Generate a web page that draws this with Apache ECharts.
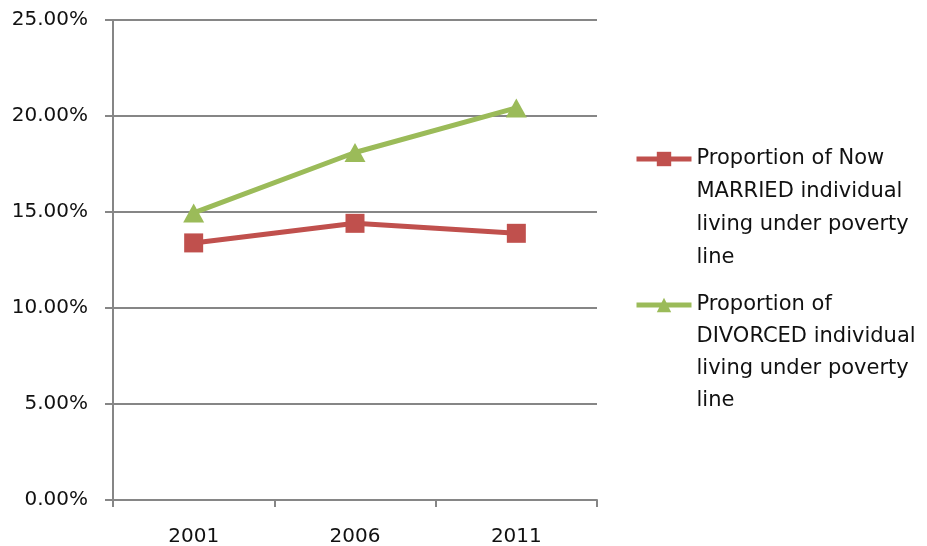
<!DOCTYPE html>
<html>
<head>
<meta charset="utf-8">
<script src="https://cdn.jsdelivr.net/npm/echarts@6/dist/echarts.min.js"></script>
<style>
html,body{margin:0;padding:0;background:#fff;}
#chart{width:927px;height:546px;}
</style>
</head>
<body>
<div id="chart"></div>
<script>
var categories = ['2001', '2006', '2011'];
var marriedValues = [13.39, 14.41, 13.89];
var divorcedValues = [14.95, 18.10, 20.42];
var marriedName = 'Proportion of Now\nMARRIED individual\nliving under poverty\nline';
var divorcedName = 'Proportion of\nDIVORCED individual\nliving under poverty\nline';
var yTicks = [0, 5, 10, 15, 20, 25];

var FONT = 'DejaVu Sans';
var chart = echarts.init(document.getElementById('chart'));
function legendFmt(name) { return '\n\n\n' + name; }
chart.setOption({
  backgroundColor: '#ffffff',
  animation: false,
  grid: {left: 113, right: 330, top: 20, bottom: 46, containLabel: false, outerBoundsMode: 'none'},
  xAxis: {
    type: 'category',
    data: categories,
    boundaryGap: true,
    axisLine: {lineStyle: {color: '#868686', width: 2}},
    axisTick: {show: true, length: 7, lineStyle: {color: '#868686', width: 2}},
    axisLabel: {color: '#111111', fontFamily: FONT, fontSize: 20, margin: 27}
  },
  yAxis: {
    type: 'value',
    min: yTicks[0],
    max: yTicks[yTicks.length - 1],
    interval: 5,
    axisLine: {show: true, lineStyle: {color: '#868686', width: 2}},
    axisTick: {show: true, length: 8, lineStyle: {color: '#868686', width: 2}},
    splitLine: {show: true, lineStyle: {color: '#868686', width: 2}},
    axisLabel: {
      color: '#111111', fontFamily: FONT, fontSize: 20, margin: 25,
      formatter: function (v) { return v.toFixed(2) + '%'; }
    }
  },
  legend: [
    {
      data: [marriedName],
      formatter: legendFmt,
      left: 634, top: 159 - 3.5 * 33, padding: 0, orient: 'vertical',
      itemWidth: 55, itemHeight: 18,
      lineStyle: {width: 5},
      textStyle: {color: '#111111', fontFamily: FONT, fontSize: 21, lineHeight: 33}
    },
    {
      data: [divorcedName],
      formatter: legendFmt,
      left: 634, top: 305 - 3.5 * 32, padding: 0, orient: 'vertical',
      itemWidth: 55, itemHeight: 18,
      lineStyle: {width: 5},
      textStyle: {color: '#111111', fontFamily: FONT, fontSize: 21, lineHeight: 32}
    }
  ],
  series: [
    {
      name: marriedName,
      type: 'line',
      data: marriedValues,
      symbol: 'rect',
      symbolSize: 19,
      itemStyle: {color: '#C0504D'},
      lineStyle: {color: '#C0504D', width: 5}
    },
    {
      name: divorcedName,
      type: 'line',
      data: divorcedValues,
      symbol: 'triangle',
      symbolSize: [21, 19],
      itemStyle: {color: '#9BBB59'},
      lineStyle: {color: '#9BBB59', width: 5}
    }
  ]
});
</script>
</body>
</html>
